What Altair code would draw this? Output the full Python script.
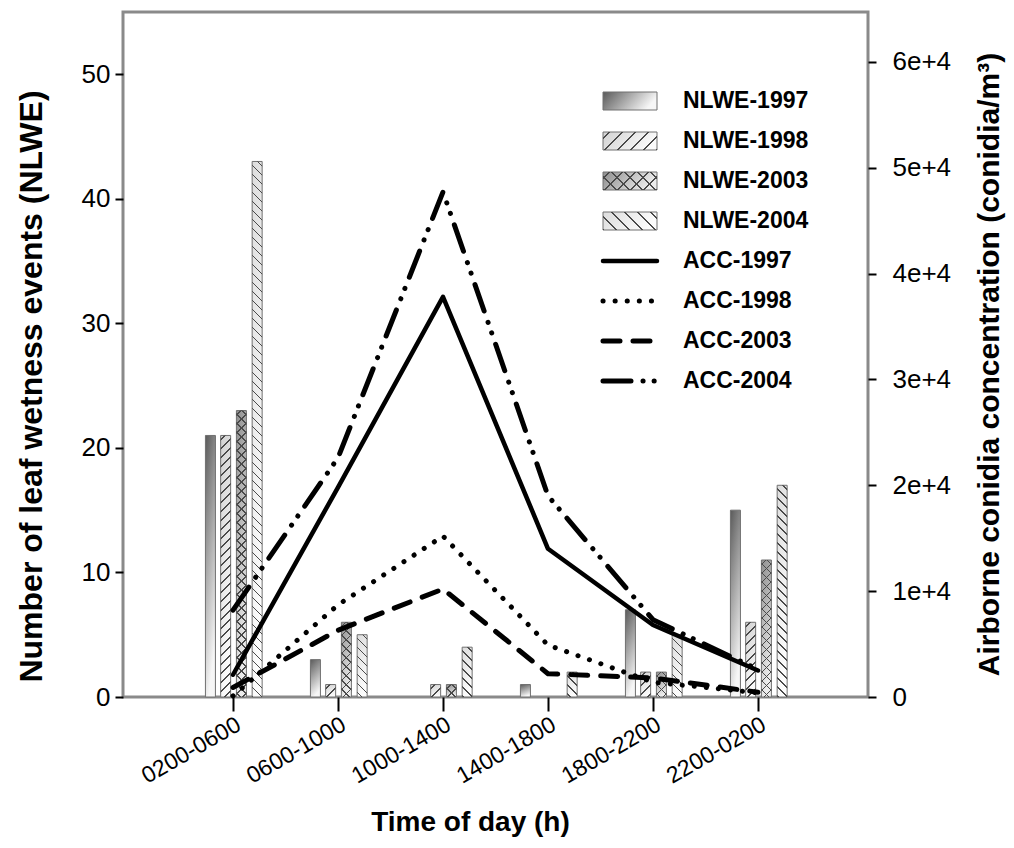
import altair as alt
import pandas as pd

categories = ["0200-0600", "0600-1000", "1000-1400", "1400-1800", "1800-2200", "2200-0200"]

nlwe_1997 = [21, 3, 0, 1, 7, 15]
nlwe_1998 = [21, 1, 1, 0, 2, 6]
nlwe_2003 = [23, 6, 1, 0, 2, 11]
nlwe_2004 = [43, 5, 4, 2, 5, 17]

acc_1997 = [2100, 19800, 37800, 14000, 6800, 2500]
acc_1998 = [100, 8700, 15200, 4900, 1400, 400]
acc_2003 = [900, 6300, 10200, 2200, 1800, 450]
acc_2004 = [8200, 22600, 47700, 19000, 7300, 2600]

bar_names = ["NLWE-1997", "NLWE-1998", "NLWE-2003", "NLWE-2004"]
line_names = ["ACC-1997", "ACC-1998", "ACC-2003", "ACC-2004"]
bar_values = [nlwe_1997, nlwe_1998, nlwe_2003, nlwe_2004]
line_values = [acc_1997, acc_1998, acc_2003, acc_2004]

bar_df = pd.DataFrame([
    {"i": k + 1, "cat": c, "series": s, "value": v}
    for s, vals in zip(bar_names, bar_values)
    for k, (c, v) in enumerate(zip(categories, vals))
])
line_df = pd.DataFrame([
    {"i": k + 1, "cat": c, "series": s, "value": v}
    for s, vals in zip(line_names, line_values)
    for k, (c, v) in enumerate(zip(categories, vals))
])
legend_df = pd.DataFrame({"name": bar_names + line_names, "row": list(range(8))})

W, H = 745, 685
YMAX = 55
FONT = "Liberation Sans"
BAR_W = 10

x_scale = alt.Scale(domain=[0, 7], nice=False, zero=False)
yl_scale = alt.Scale(domain=[0, YMAX], nice=False, zero=True)
yr_scale = alt.Scale(domain=[0, 64700], nice=False, zero=True)
lg_scale = alt.Scale(domain=[0, H], range=[0, H], nice=False, zero=False)

label_expr = "[" + ",".join("'" + c + "'" for c in [""] + categories) + "][datum.value]"
x_axis = alt.Axis(values=[1, 2, 3, 4, 5, 6], labelExpr=label_expr, labelAngle=330,
                  labelAlign="right", labelBaseline="top", labelFontSize=23, labelPadding=2,
                  labelOverlap=False, labelBound=False, labelFlush=False,
                  tickSize=14, tickWidth=2, domain=False, grid=False,
                  title="Time of day (h)", titleFontSize=28, titleFontWeight="bold",
                  titleX=347, titleY=125, titleBaseline="middle", titleAlign="center")
yl_axis = alt.Axis(values=[0, 10, 20, 30, 40, 50], labelFontSize=26, labelPadding=5,
                   labelOverlap=False,
                   tickSize=8, tickWidth=2, domain=False, grid=False,
                   title="Number of leaf wetness events (NLWE)", titleFontSize=32,
                   titleFontWeight="bold", titleAngle=270, titleX=-92, titleY=374,
                   titleBaseline="middle", titleAlign="center")
yr_axis = alt.Axis(orient="right", values=[0, 10000, 20000, 30000, 40000, 50000, 60000],
                   labelExpr="datum.value == 0 ? '0' : (datum.value / 10000) + 'e+4'",
                   labelFontSize=26, labelPadding=16, labelOverlap=False,
                   tickSize=8, tickWidth=2, domain=False, grid=False,
                   title="Airborne conidia concentration (conidia/m³)", titleFontSize=30,
                   titleFontWeight="bold", titleAngle=270, titleX=121, titleY=352,
                   titleBaseline="middle", titleAlign="center")


def grad(c0, c1, horizontal=False):
    if horizontal:
        x2, y2 = 1, 0.3
    else:
        x2, y2 = 0.3, 1
    return {"gradient": "linear", "x1": 0, "y1": 0, "x2": x2, "y2": y2,
            "stops": [{"offset": 0, "color": c0}, {"offset": 1, "color": c1}]}


def hatch(w, h, direction, spacing=9.0, lw=1.1, color="#4a4a4a"):
    """Stripe gradient (transparent background) giving 45-degree hatching in a w x h box."""
    k = (w + h) / (w * w + h * h)
    if direction == "/":
        x1, y1, x2, y2 = 0, 0, k * w, k * h
    else:
        x1, y1, x2, y2 = 1, 0, 1 - k * w, k * h
    total = w + h
    clear = "rgba(255,255,255,0)"
    stops = [{"offset": 0, "color": clear}]
    c = spacing / 2
    e = lw * 0.7 / total
    while c < total:
        t = c / total
        a, b = max(t - e, 0), min(t + e, 1)
        stops += [{"offset": a, "color": clear}, {"offset": a, "color": color},
                  {"offset": b, "color": color}, {"offset": b, "color": clear}]
        c += spacing
    stops.append({"offset": 1, "color": clear})
    return {"gradient": "linear", "x1": x1, "y1": y1, "x2": x2, "y2": y2, "stops": stops}


bar_colors = [("#5a5a5a", "#f6f6f6"), ("#d2d2d2", "#fafafa"),
              ("#8e8e8e", "#ececec"), ("#dcdcdc", "#fcfcfc")]
bar_hatches = [[], ["/"], ["/", "\\"], ["\\"]]
offsets = [-0.215, -0.07, 0.08, 0.23]

bar_layers = []
for s, vals, (c0, c1), off, hs in zip(bar_names, bar_values, bar_colors, offsets, bar_hatches):
    base = (alt.Chart(bar_df)
            .transform_filter((alt.datum.series == s) & (alt.datum.value > 0))
            .transform_calculate(xpos="datum.i + (" + str(off) + ")"))
    bar_layers.append(
        base.mark_bar(size=BAR_W, fill=grad(c0, c1), stroke="#707070", strokeWidth=1)
        .encode(x=alt.X("xpos:Q", scale=x_scale, axis=x_axis),
                y=alt.Y("value:Q", scale=yl_scale, axis=yl_axis))
    )
    for d in hs:
        for k, v in enumerate(vals):
            if v <= 0:
                continue
            hpx = v * H / YMAX
            bar_layers.append(
                alt.Chart(bar_df)
                .transform_filter((alt.datum.series == s) & (alt.datum.i == k + 1))
                .transform_calculate(xpos="datum.i + (" + str(off) + ")")
                .mark_bar(size=BAR_W, fill=hatch(BAR_W, hpx, d), strokeOpacity=0)
                .encode(x=alt.X("xpos:Q", scale=x_scale, axis=x_axis),
                        y=alt.Y("value:Q", scale=yl_scale, axis=yl_axis))
            )
bars = alt.layer(*bar_layers)

dash_styles = [None, [0.1, 12], [17, 13], [28, 12, 0.1, 11, 0.1, 12]]
line_widths = [4.5, 5, 5, 5]

line_layers = []
for s, d, w in zip(line_names, dash_styles, line_widths):
    kw = dict(stroke="black", strokeWidth=w, strokeCap="round", strokeJoin="round")
    if d is not None:
        kw["strokeDash"] = d
    line_layers.append(
        alt.Chart(line_df)
        .transform_filter(alt.datum.series == s)
        .mark_line(**kw)
        .encode(x=alt.X("i:Q", scale=x_scale, axis=x_axis),
                y=alt.Y("value:Q", scale=yr_scale, axis=yr_axis))
    )
lines = alt.layer(*line_layers)

# legend
SW_W, SW_H = 54, 18
leg_base = alt.Chart(legend_df).transform_calculate(
    ly="89 + datum.row * 40", ly0="89 + datum.row * 40 - 9", ly1="89 + datum.row * 40 + 9")
leg_layers = []
for k, ((c0, c1), hs) in enumerate(zip(bar_colors, bar_hatches)):
    leg_layers.append(
        leg_base.transform_filter(alt.datum.row == k)
        .mark_rect(fill=grad(c0, c1, horizontal=True), stroke="#707070", strokeWidth=1)
        .encode(x=alt.value(480), x2=alt.value(480 + SW_W),
                y=alt.Y("ly0:Q", scale=lg_scale, axis=None), y2="ly1:Q")
    )
    for d in hs:
        leg_layers.append(
            leg_base.transform_filter(alt.datum.row == k)
            .mark_rect(fill=hatch(SW_W, SW_H, d, spacing=13), strokeOpacity=0)
            .encode(x=alt.value(480), x2=alt.value(480 + SW_W),
                    y=alt.Y("ly0:Q", scale=lg_scale, axis=None), y2="ly1:Q")
        )
for k, (d, w) in enumerate(zip(dash_styles, line_widths)):
    kw = dict(stroke="black", strokeWidth=w, strokeCap="round")
    if d is not None:
        kw["strokeDash"] = d
    leg_layers.append(
        leg_base.transform_filter(alt.datum.row == k + 4)
        .mark_rule(**kw)
        .encode(x=alt.value(480), x2=alt.value(534),
                y=alt.Y("ly:Q", scale=lg_scale, axis=None))
    )
leg_layers.append(
    leg_base.mark_text(align="left", baseline="middle", font=FONT, fontSize=23,
                       fontWeight="bold", color="black")
    .encode(x=alt.value(560), y=alt.Y("ly:Q", scale=lg_scale, axis=None), text="name:N")
)
legend = alt.layer(*leg_layers)

chart = (
    alt.layer(bars, lines, legend)
    .resolve_scale(y="independent")
    .properties(width=W, height=H,
                padding={"left": 115, "top": 4, "right": 138, "bottom": 143},
                autosize=alt.AutoSizeParams(type="none"))
    .configure_view(stroke="#8a8a8a", strokeWidth=3)
    .configure_axis(labelFont=FONT, titleFont=FONT, labelColor="black", titleColor="black",
                    tickColor="black")
)

chart.save("out.html", embed_options={"renderer": "svg", "actions": False})
